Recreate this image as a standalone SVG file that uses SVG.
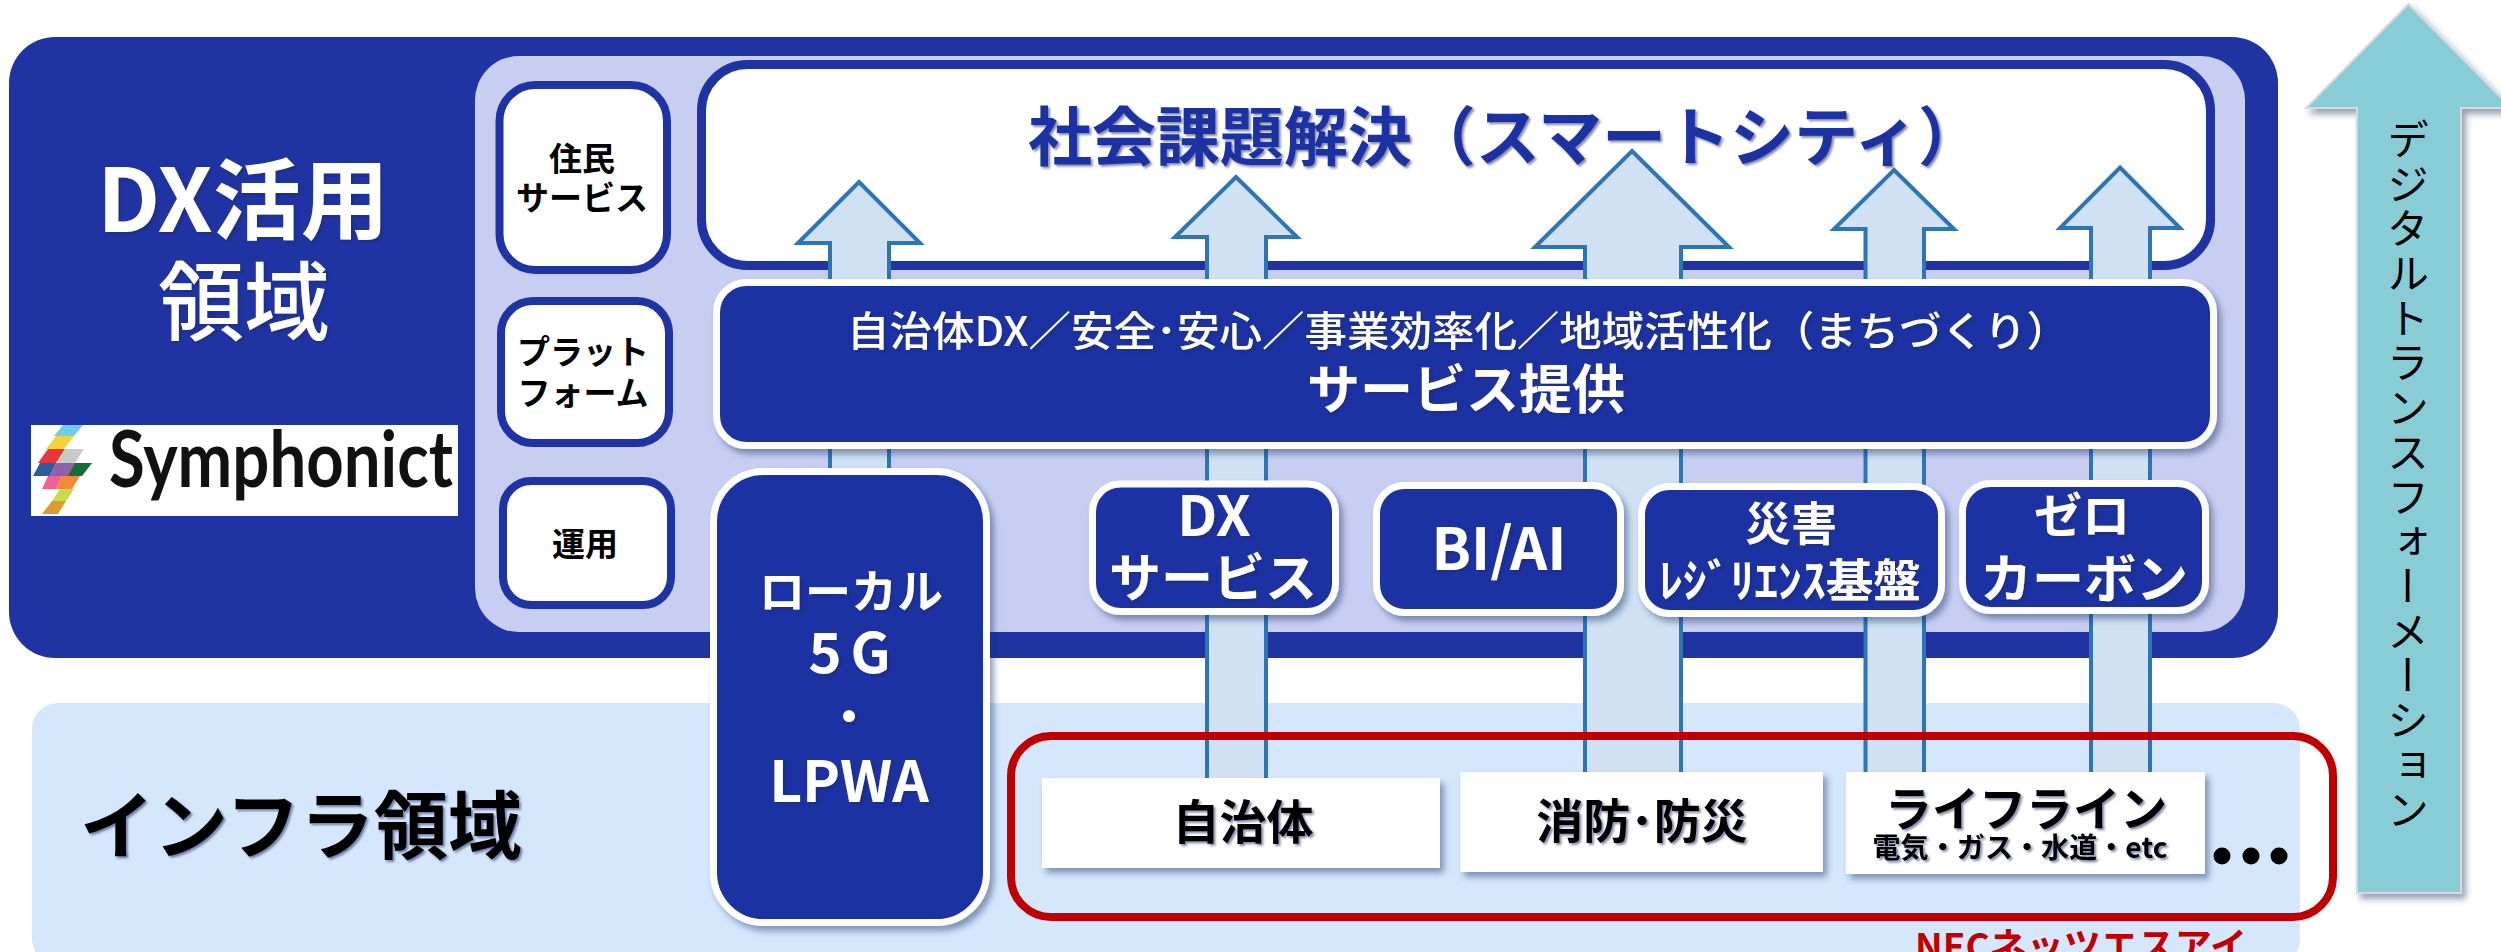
<svg xmlns="http://www.w3.org/2000/svg" width="2501" height="952" viewBox="0 0 2501 952">
<style>
text{font-family:"Noto Sans CJK JP","Noto Sans",sans-serif;text-anchor:middle}
.w{fill:#fff;font-weight:700;filter:url(#ts)}
.b{fill:#000;font-weight:700;filter:url(#ts)}
.s{fill:#000;font-weight:700;font-size:33px}
.side{fill:#fff;stroke:#1F33A3;stroke-width:8}
.blue{fill:#1F33A3;stroke:#fff;stroke-width:7;filter:url(#bs)}
.card{fill:#fff;filter:url(#bs)}
.arrow{fill:#CFE1F3;stroke:#2E75B6;stroke-width:4}
</style>
<defs>
<filter id="bs" x="-10%" y="-10%" width="120%" height="125%"><feDropShadow dx="4" dy="5" stdDeviation="3" flood-color="#1a2a60" flood-opacity=".45"/></filter>
<filter id="ts" x="-10%" y="-10%" width="120%" height="125%"><feDropShadow dx="2" dy="2" stdDeviation="1.2" flood-color="#1a2a60" flood-opacity=".55"/></filter>
</defs>
<g id="panel-dx">
<rect x="9" y="37" width="2269" height="621" rx="46" fill="#1F33A3"/>
<rect x="475" y="56" width="1770" height="576" rx="44" fill="#C8CEF2"/>
<text class="w" x="243" y="232" font-size="88">DX活用</text>
<text class="w" x="244" y="334" font-size="86" style="font-weight:500">領域</text>
</g>
<g id="logo">
<rect x="31" y="425" width="427" height="91" fill="#fff"/>
<polygon points="63,425 83,425 74,436 54,436" fill="#6FCDEE"/>
<polygon points="56,436 74,436 64,449 46,449" fill="#F3D23C"/>
<polygon points="48,449 65,449 56,463 38,463" fill="#E8343F"/>
<polygon points="65,449 84,449 75,463 56,463" fill="#C9C9C9"/>
<polygon points="40,463 56,463 50,476 33,476" fill="#2F5C9E"/>
<polygon points="56,463 75,463 70,476 50,476" fill="#9160AC"/>
<polygon points="75,463 92,463 82,476 68,476" fill="#176B36"/>
<polygon points="48,476 62,476 56,489 42,489" fill="#EE6096"/>
<polygon points="62,476 80,476 72,489 56,489" fill="#F08A36"/>
<polygon points="60,489 74,489 66,501 52,501" fill="#C5DB48"/>
<polygon points="52,501 66,501 58,514 42,514" fill="#DE9A2F"/>
<text x="281" y="487" font-size="78" font-weight="700" fill="#111" style="font-family:'Lato','Liberation Sans',sans-serif" textLength="344" lengthAdjust="spacingAndGlyphs">Symphonict</text>
</g>
<g id="side-residents"><rect class="side" x="499.500" y="85" width="167.500" height="185" rx="36"/><text class="s" x="582" y="171">住民</text><text class="s" x="582" y="210">サービス</text></g>
<g id="side-platform"><rect class="side" x="501" y="301" width="168" height="142" rx="32"/><text class="s" x="583" y="364">プラット</text><text class="s" x="583" y="405">フォーム</text></g>
<g id="side-ops"><rect class="side" x="503" y="481" width="168" height="124" rx="28"/><text class="s" x="585" y="556">運用</text></g>
<g id="goal">
<rect x="701.500" y="64.500" width="1509" height="201" rx="46" fill="#fff" stroke="#1F33A3" stroke-width="9"/>
<text x="1505" y="160" font-size="64" font-weight="700" fill="#1F33A3" filter="url(#ts)">社会課題解決（スマートシティ）</text>
</g>
<g id="panel-infra">
<rect x="32" y="703" width="2268" height="262" rx="26" fill="#D5E7FD"/>
<text class="b" x="301" y="853" font-size="74">インフラ領域</text>
</g>
<g id="connectors">
<polygon class="arrow" points="859,182 920,243 889,243 889,800 830,800 830,243 798,243"/>
<polygon class="arrow" points="1236,177 1297,237 1266,237 1266,790 1207,790 1207,237 1175,237"/>
<polygon class="arrow" points="1632,151 1729,247 1681,247 1681,790 1585,790 1585,247 1535,247"/>
<polygon class="arrow" points="1894,170 1954,229 1924,229 1924,790 1865.500,790 1865.500,229 1834,229"/>
<polygon class="arrow" points="2120,167.500 2180,228 2150,228 2150,790 2091,790 2091,228 2060,228"/>
</g>
<g id="service-band">
<rect class="blue" x="716.500" y="282.500" width="1497" height="163" rx="30"/>
<text class="w" x="1458" y="346" font-size="41" textLength="1222" lengthAdjust="spacingAndGlyphs" style="font-weight:500">自治体DX／安全･安心／事業効率化／地域活性化（まちづくり）</text>
<text class="w" x="1466" y="409" font-size="53">サービス提供</text>
</g>
<g id="box-dx"><rect class="blue" x="1092.500" y="484" width="243" height="127.500" rx="28"/><text class="w" x="1214" y="536" font-size="56">DX</text><text class="w" x="1213" y="597" font-size="52">サービス</text></g>
<g id="box-biai"><rect class="blue" x="1376.500" y="485.500" width="244" height="127" rx="28"/><text class="w" x="1499" y="570" font-size="58">BI/AI</text></g>
<g id="box-resilience"><rect class="blue" x="1641.500" y="486.500" width="300" height="127" rx="28"/><text class="w" x="1791" y="540" font-size="46">災害</text><text class="w" x="1790" y="597" font-size="46" textLength="262" lengthAdjust="spacingAndGlyphs">ﾚｼﾞﾘｴﾝｽ基盤</text></g>
<g id="box-zero"><rect class="blue" x="1962.500" y="483.500" width="243" height="127" rx="28"/><text class="w" x="2082" y="533" font-size="48">ゼロ</text><text class="w" x="2084" y="598" font-size="52">カーボン</text></g>
<g id="box-network">
<rect x="1011" y="736" width="1322" height="181" rx="40" fill="none" stroke="#C00000" stroke-width="8"/>
<text x="2081" y="960" font-size="37" font-weight="700" fill="#C00000">NECネッツエスアイ</text>
</g>
<g id="card-municipal"><rect class="card" x="1042" y="778" width="398" height="90"/><text class="b" x="1243" y="839" font-size="47">自治体</text></g>
<g id="card-fire"><rect class="card" x="1460.500" y="772" width="362.500" height="100"/><text class="b" x="1642" y="838" font-size="47">消防･防災</text></g>
<g id="card-lifeline"><rect class="card" x="1846" y="772" width="359" height="102"/><text class="b" x="2026" y="826" font-size="47">ライフライン</text><text class="b" x="2020" y="858" font-size="28" textLength="295">電気・ガス・水道・etc</text></g>
<g id="dots" fill="#000"><circle cx="2222" cy="856" r="8.500"/><circle cx="2251" cy="856" r="8.500"/><circle cx="2279" cy="856" r="8.500"/></g>
<g id="box-lpwa">
<rect class="blue" x="713.500" y="471.500" width="273" height="451" rx="50"/>
<text class="w" x="851" y="608" font-size="46">ローカル</text>
<text class="w" x="854" y="673" font-size="56" letter-spacing="9">5G</text>
<text class="w" x="849" y="733" font-size="46">・</text>
<text class="w" x="849" y="802" font-size="57">LPWA</text>
</g>
<g id="dx-arrow">
<polygon points="2408.500,4 2511,108 2461,108 2461,893 2357,893 2357,108 2306,108" fill="#88CCD6" stroke="#D9D9D9" stroke-width="2" filter="url(#bs)"/>
<text x="2408" y="118" font-size="42" letter-spacing="2.700" fill="#000" style="writing-mode:vertical-rl;text-anchor:start">デジタルトランスフォーメーション</text>
</g>
</svg>
